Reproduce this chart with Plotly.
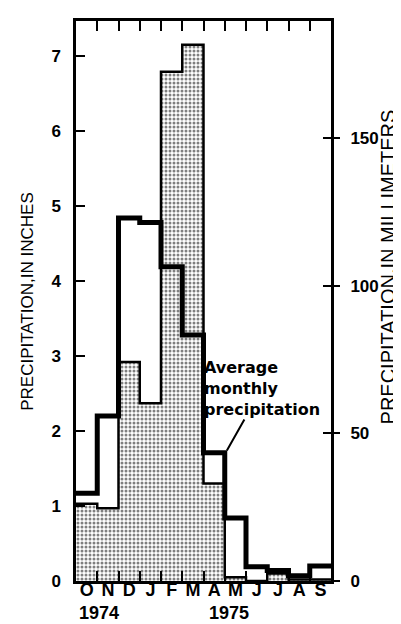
import plotly.graph_objects as go

months = ["O", "N", "D", "J", "F", "M", "A", "M", "J", "J", "A", "S"]
years = ["1974", "1975"]
# 1974-75 monthly precipitation, inches
monthly_in = [1.03, 0.97, 2.92, 2.37, 6.79, 7.15, 1.30, 0.05, 0.0, 0.10, 0.02, 0.02]
# average monthly precipitation, inches
average_in = [1.17, 2.20, 4.84, 4.78, 4.19, 3.28, 1.71, 0.84, 0.19, 0.14, 0.07, 0.20]
inch_ticks = [0, 1, 2, 3, 4, 5, 6, 7]
mm_ticks = [0, 50, 100, 150]
MM_PER_IN = 25.4

n = len(months)
centers = [i + 0.5 for i in range(n)]
edges = list(range(n + 1))
ytop = 7.467

FONT = "Liberation Sans"

fig = go.Figure()

fig.add_trace(go.Bar(
    x=centers, y=monthly_in, width=1,
    marker=dict(color="white",
                pattern=dict(shape=".", fgcolor="black", bgcolor="white", size=4, solidity=0.45),
                line=dict(width=0)),
    hoverinfo="skip", showlegend=False,
))
# outline of monthly bars
fig.add_trace(go.Scatter(
    x=edges, y=monthly_in + [monthly_in[-1]], mode="lines", line_shape="hv",
    line=dict(color="black", width=2.5), hoverinfo="skip", showlegend=False,
))
# average monthly precipitation step line
fig.add_trace(go.Scatter(
    x=edges, y=average_in + [average_in[-1]], mode="lines", line_shape="hv",
    line=dict(color="black", width=5), hoverinfo="skip", showlegend=False,
))
# same data in millimetres on right axes (invisible)
for ya in ["y2", "y3"]:
    fig.add_trace(go.Scatter(
        x=centers, y=[v * MM_PER_IN for v in monthly_in], mode="lines",
        line=dict(width=0, color="rgba(0,0,0,0)"), yaxis=ya,
        hoverinfo="skip", showlegend=False,
    ))

fig.update_layout(
    width=401, height=624,
    margin=dict(l=68, r=78, t=10, b=51),
    paper_bgcolor="white", plot_bgcolor="white",
    bargap=0, showlegend=False,
    font=dict(family=FONT, color="black"),
    xaxis=dict(
        range=[0, n], tickmode="array", tickvals=centers, ticktext=months,
        ticks="", showgrid=False, zeroline=False,
        showline=True, linecolor="black", linewidth=2.5, mirror="allticks",
        tickfont=dict(family=FONT, size=18, weight="bold", color="black"),
        ticklabelstandoff=-9,
        minor=dict(tickmode="array", tickvals=list(range(1, n)), ticks="inside",
                   ticklen=10, tickwidth=2, tickcolor="black", showgrid=False),
    ),
    yaxis=dict(
        range=[0, ytop], tickmode="array", tickvals=inch_ticks,
        ticks="inside", ticklen=9, tickwidth=2, tickcolor="black",
        showgrid=False, zeroline=False,
        showline=True, linecolor="black", linewidth=2.5, mirror=True,
        tickfont=dict(family=FONT, size=17, weight="bold", color="black"),
        ticklabelstandoff=9,
    ),
    yaxis2=dict(
        overlaying="y", side="right", range=[0, ytop * MM_PER_IN],
        tickmode="array", tickvals=mm_ticks,
        ticks="outside", ticklen=8, tickwidth=2, tickcolor="black",
        showgrid=False, zeroline=False, showline=False,
        tickfont=dict(family=FONT, size=17, weight="bold", color="black"),
        ticklabelstandoff=7,
    ),
    yaxis3=dict(
        overlaying="y", side="right", range=[0, ytop * MM_PER_IN],
        tickmode="array", tickvals=mm_ticks[1:],
        ticks="inside", ticklen=8, tickwidth=2, tickcolor="black",
        showticklabels=False, showgrid=False, zeroline=False, showline=False,
    ),
)

ann = [
    dict(text="PRECIPITATION,IN INCHES", xref="paper", yref="paper",
         x=-0.193, y=0.5, xanchor="center", yanchor="middle",
         textangle=-90, showarrow=False,
         font=dict(family=FONT, size=17, color="black")),
    dict(text="PRECIPITATION.IN MILLIMETERS", xref="paper", yref="paper",
         x=1.222, y=0.561, xanchor="center", yanchor="middle",
         textangle=-90, showarrow=False,
         font=dict(family=FONT, size=20, color="black")),
    dict(text=years[0], xref="x", yref="paper", x=1.1, y=-0.057,
         xanchor="center", yanchor="middle", showarrow=False,
         font=dict(family=FONT, size=18, weight="bold", color="black")),
    dict(text=years[1], xref="x", yref="paper", x=7.2, y=-0.057,
         xanchor="center", yanchor="middle", showarrow=False,
         font=dict(family=FONT, size=18, weight="bold", color="black")),
    dict(text="Average<br>monthly<br>precipitation", xref="x", yref="y",
         x=7.1, y=1.74, ax=35, ay=-62, showarrow=True, arrowhead=0,
         arrowwidth=2, arrowcolor="black", align="left", borderpad=0,
         font=dict(family="DejaVu Sans", size=16, weight="bold", color="black")),
]
fig.update_layout(annotations=ann)

fig.write_html("out.html")
